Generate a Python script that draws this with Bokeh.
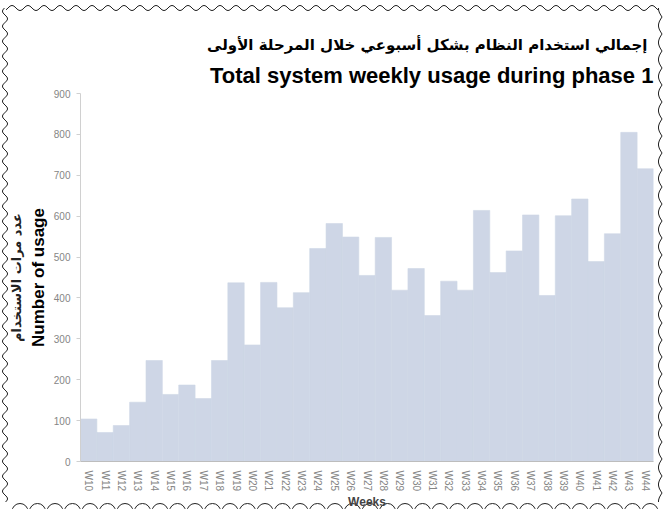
import math
from urllib.parse import quote
from bokeh.plotting import figure
from bokeh.models import Title, FactorRange, Range1d, FixedTicker, InlineStyleSheet
from bokeh.embed import file_html
from bokeh.resources import INLINE

weeks = ["W10", "W11", "W12", "W13", "W14", "W15", "W16", "W17", "W18", "W19",
         "W20", "W21", "W22", "W23", "W24", "W25", "W26", "W27", "W28", "W29",
         "W30", "W31", "W32", "W33", "W34", "W35", "W36", "W37", "W38", "W39",
         "W40", "W41", "W42", "W43", "W44"]
usage = [104, 71, 88, 145, 247, 164, 187, 154, 247, 437,
         285, 438, 376, 413, 521, 582, 549, 455, 548, 419,
         472, 357, 441, 419, 614, 462, 515, 603, 406, 601,
         642, 489, 557, 805, 716]
y_ticks = [0, 100, 200, 300, 400, 500, 600, 700, 800, 900]

title_en = "Total system  weekly usage during phase 1"
title_ar = "إجمالي استخدام النظام بشكل أسبوعي خلال المرحلة الأولى"
ylabel_en = "Number of usage"
ylabel_ar = "عدد مرات الاستخدام"
xlabel = "Weeks"

W, H = 665, 509
BAR = "#CED6E6"

# decorative scalloped frame, drawn as an SVG background of the canvas
def border_svg(w, h):
    segs = []
    top = " ".join(f"{x:.1f},{8 + 2.5 * math.sin(2 * math.pi * x / 16):.1f}"
                   for x in [6 + i * 1.0 for i in range(int(w - 12))])
    segs.append(f'<polyline points="{top}"/>')
    left = " ".join(f"{5 + 2.5 * math.sin(2 * math.pi * y / 15):.1f},{y:.1f}"
                    for y in [8 + i * 1.0 for i in range(int(h - 14))])
    segs.append(f'<polyline points="{left}"/>')
    right = " ".join(f"{w - 3 - 3.5 * abs(math.sin(math.pi * y / 17)):.1f},{y:.1f}"
                     for y in [8 + i * 1.0 for i in range(int(h - 14))])
    segs.append(f'<polyline points="{right}"/>')
    cx = 20.0
    while cx < w - 6:
        segs.append(f'<circle cx="{cx:.1f}" cy="{h + 2.5:.1f}" r="8"/>')
        cx += 17.5
    body = "".join(segs)
    svg = (f'<svg xmlns="http://www.w3.org/2000/svg" width="{w}" height="{h}" '
           f'viewBox="0 0 {w} {h}"><g fill="none" stroke="#222" stroke-width="1">'
           f'{body}</g></svg>')
    return "data:image/svg+xml," + quote(svg)

p = figure(x_range=FactorRange(factors=weeks, range_padding=0),
           y_range=Range1d(0, 900),
           frame_width=573, frame_height=368,
           min_border_left=80, min_border_right=W - 80 - 573,
           min_border_top=93, min_border_bottom=H - 93 - 368,
           output_backend="svg", toolbar_location=None)

p.stylesheets = [InlineStyleSheet(css=(
    ":host { background-color: white; background-image: url(\"%s\");"
    " background-repeat: no-repeat; background-size: %dpx %dpx; }" % (border_svg(W, H), W, H)))]

p.vbar(x=weeks, top=usage, width=1.0, fill_color=BAR, line_color=BAR, line_width=0.6)

p.xgrid.grid_line_color = None
p.ygrid.grid_line_color = None
p.outline_line_color = None
p.background_fill_color = "white"
p.border_fill_color = None

p.yaxis.ticker = FixedTicker(ticks=y_ticks)
p.yaxis.axis_line_color = "#D0D0D0"
p.yaxis.major_tick_line_color = "#D0D0D0"
p.yaxis.major_tick_out = 4
p.yaxis.major_tick_in = 0
p.yaxis.minor_tick_line_color = None
p.yaxis.major_label_text_font = "Liberation Sans"
p.yaxis.major_label_text_font_size = "10px"
p.yaxis.major_label_text_color = "#858585"
p.yaxis.major_label_standoff = 6

p.xaxis.axis_line_color = "#BDBDBD"
p.xaxis.major_tick_line_color = None
p.xaxis.minor_tick_line_color = None
p.xaxis.major_label_orientation = "vertical"
p.xaxis.major_label_text_font = "Liberation Sans"
p.xaxis.major_label_text_font_size = "10px"
p.xaxis.major_label_text_color = "#858585"
p.xaxis.major_label_standoff = 3
p.xaxis.axis_label = xlabel
p.xaxis.axis_label_text_font = "Liberation Sans"
p.xaxis.axis_label_text_font_size = "12px"
p.xaxis.axis_label_text_font_style = "bold"
p.xaxis.axis_label_text_color = "#444444"
p.xaxis.axis_label_standoff = 1

# titles above (first added is closest to the plot)
p.add_layout(Title(text=title_en, align="right", text_font="Liberation Sans",
                   text_font_size="22px", text_font_style="bold",
                   text_color="black", standoff=12, offset=-6), "above")
p.add_layout(Title(text=title_ar, align="right", text_font="DejaVu Sans",
                   text_font_size="15px", text_font_style="bold",
                   text_color="black", standoff=2, offset=6), "above")

# y labels on the left
p.add_layout(Title(text=ylabel_en, align="center", text_font="Liberation Sans",
                   text_font_size="17px", text_font_style="bold",
                   text_color="black", standoff=5), "left")
p.add_layout(Title(text=ylabel_ar, align="center", text_font="DejaVu Sans",
                   text_font_size="13px", text_font_style="bold",
                   text_color="#222222", standoff=1), "left")

open("out.html", "w").write(file_html(p, INLINE))
